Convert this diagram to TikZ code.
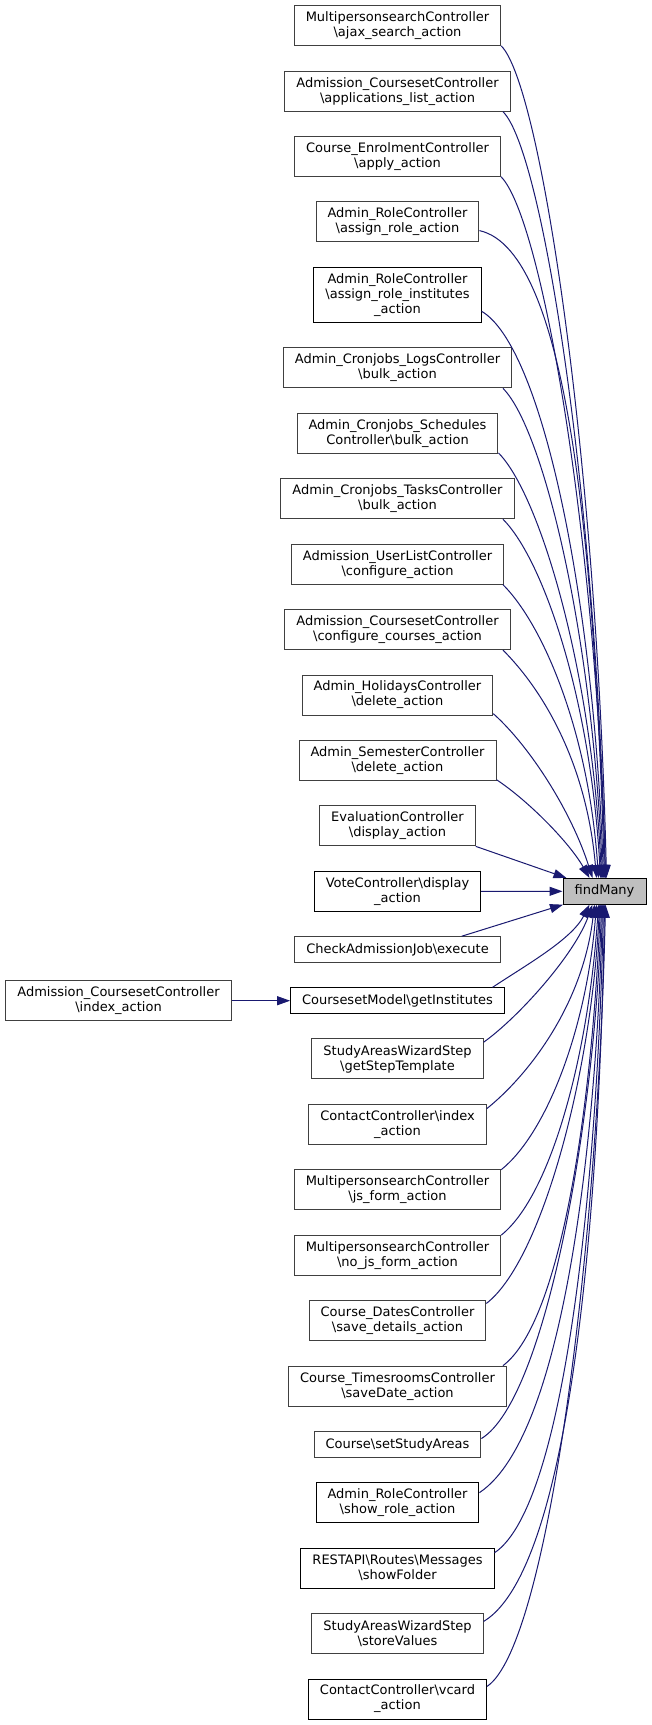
\documentclass[tikz,border=0pt]{standalone}
\usepackage{fontspec}
\setmainfont{DejaVu Sans}
\usetikzlibrary{arrows.meta}
\definecolor{edgeblue}{HTML}{191970}
\definecolor{boxgray}{HTML}{404040}
\definecolor{rootfill}{HTML}{BFBFBF}
\newcommand{\BSL}{\textbackslash}
\newcommand{\USC}{\_}
\begin{document}
\begin{tikzpicture}[x=1pt,y=-1pt,
  box/.style={draw=boxgray,line width=1pt,fill=white,align=center,inner xsep=11.5pt,inner ysep=0pt,
     font=\fontsize{13pt}{15pt}\selectfont,minimum height=40pt},
  boxk/.style={box,draw=black},
  one/.style={minimum height=25.7pt},
  three/.style={minimum height=55pt},
  root/.style={draw=black,line width=1pt,fill=rootfill,inner xsep=11.5pt,inner ysep=0pt,
     font=\fontsize{13pt}{15pt}\selectfont,minimum width=83pt,minimum height=25.7pt},
  edge/.style={draw=edgeblue,line width=1pt,-{Triangle[length=13pt,width=9pt]}}]
\fill[white] (0,0) rectangle (651,1725);
\useasboundingbox (0,0) rectangle (651,1725);

\node[root] (f) at (604.5,891.3) {findMany};

\node[box] (b1) at (397.5,25.7) {MultipersonsearchController\\\BSL ajax\USC search\USC action};
\node[box] (b2) at (397.5,91.13) {Admission\USC CoursesetController\\\BSL applications\USC list\USC action};
\node[box] (b3) at (397.5,156.56) {Course\USC EnrolmentController\\\BSL apply\USC action};
\node[box] (b4) at (397.5,221.99) {Admin\USC RoleController\\\BSL assign\USC role\USC action};
\node[boxk,three] (b5) at (397.5,294.92) {Admin\USC RoleController\\\BSL assign\USC role\USC institutes\\\USC action};
\node[box] (b6) at (397.5,367.85) {Admin\USC Cronjobs\USC LogsController\\\BSL bulk\USC action};
\node[box] (b7) at (397.5,433.28) {Admin\USC Cronjobs\USC Schedules\\Controller\BSL bulk\USC action};
\node[box] (b8) at (397.5,498.71) {Admin\USC Cronjobs\USC TasksController\\\BSL bulk\USC action};
\node[box] (b9) at (397.5,564.14) {Admission\USC UserListController\\\BSL configure\USC action};
\node[box] (b10) at (397.5,629.57) {Admission\USC CoursesetController\\\BSL configure\USC courses\USC action};
\node[box] (b11) at (397.5,695.0) {Admin\USC HolidaysController\\\BSL delete\USC action};
\node[box] (b12) at (397.5,760.43) {Admin\USC SemesterController\\\BSL delete\USC action};
\node[box] (b13) at (397.5,825.86) {EvaluationController\\\BSL display\USC action};
\node[boxk] (b14) at (397.5,891.29) {VoteController\BSL display\\\USC action};
\node[box,one] (b15) at (397.5,949.57) {CheckAdmissionJob\BSL execute};
\node[boxk,one] (b16) at (397.5,1000.7) {CoursesetModel\BSL getInstitutes};
\node[box] (L) at (118.5,1000.7) {Admission\USC CoursesetController\\\BSL index\USC action};
\node[box] (b17) at (397.5,1058.98) {StudyAreasWizardStep\\\BSL getStepTemplate};
\node[box] (b18) at (397.5,1124.41) {ContactController\BSL index\\\USC action};
\node[box] (b19) at (397.5,1189.84) {MultipersonsearchController\\\BSL js\USC form\USC action};
\node[box] (b20) at (397.5,1255.27) {MultipersonsearchController\\\BSL no\USC js\USC form\USC action};
\node[box] (b21) at (397.5,1320.7) {Course\USC DatesController\\\BSL save\USC details\USC action};
\node[box] (b22) at (397.5,1386.13) {Course\USC TimesroomsController\\\BSL saveDate\USC action};
\node[box,one] (b23) at (397.5,1444.41) {Course\BSL setStudyAreas};
\node[boxk] (b24) at (397.5,1502.69) {Admin\USC RoleController\\\BSL show\USC role\USC action};
\node[boxk] (b25) at (397.5,1568.12) {RESTAPI\BSL Routes\BSL Messages\\\BSL showFolder};
\node[box] (b26) at (397.5,1633.55) {StudyAreasWizardStep\\\BSL storeValues};
\node[boxk] (b27) at (397.5,1698.98) {ContactController\BSL vcard\\\USC action};

% upper callers
\draw[edge] (b1.-11.3) .. controls +(40,40) and +(-10,-417) .. ([xshift=44pt]f.north west);
\draw[edge] (b2.-11.3) .. controls +(40,40) and +(-10,-384) .. ([xshift=43pt]f.north west);
\draw[edge] (b3.-11.3) .. controls +(40,40) and +(-10,-351) .. ([xshift=43pt]f.north west);
\draw[edge] (b4.-6.7) .. controls +(90,20) and +(-10,-323) .. ([xshift=42pt]f.north west);
\draw[edge] (b5.-11.3) .. controls +(60,35) and +(-10,-284) .. ([xshift=41pt]f.north west);
\draw[edge] (b6.-11.3) .. controls +(40,40) and +(-10,-246) .. ([xshift=40pt]f.north west);
\draw[edge] (b7.-11.3) .. controls +(40,40) and +(-10,-213) .. ([xshift=39pt]f.north west);
\draw[edge] (b8.-11.3) .. controls +(40,40) and +(-10,-180) .. ([xshift=38pt]f.north west);
\draw[edge] (b9.-11.3) .. controls +(40,40) and +(-10,-147) .. ([xshift=36pt]f.north west);
\draw[edge] (b10.-11.3) .. controls +(40,40) and +(-10,-115) .. ([xshift=34pt]f.north west);
\draw[edge] (b11.-11.3) .. controls +(37,33) and +(-21,-66) .. ([xshift=30pt]f.north west);
\draw[edge] (b12.-11.3) .. controls +(33,22) and +(-20,-35) .. ([xshift=27pt]f.north west);
% near callers
\draw[edge] (b13.south east) -- ([xshift=4pt]f.north west);
\draw[edge] (b14) -- (f);
\draw[edge] ([xshift=-39pt]b15.north east) -- ([xshift=0.5pt]f.south west);
% lower callers
\draw[edge] (b16.8.9) .. controls +(33,-22) and +(-18,35) .. ([xshift=27pt]f.south west);
\draw[edge] (b17.11.4) .. controls +(35,-25) and +(-18,50) .. ([xshift=30pt]f.south west);
\draw[edge] (b18.10.5) .. controls +(40,-32) and +(-12,102) .. ([xshift=32pt]f.south west);
\draw[edge] (b19.11.3) .. controls +(45,-36) and +(-10,125) .. ([xshift=34pt]f.south west);
\draw[edge] (b20.11.3) .. controls +(50,-40) and +(-10,150) .. ([xshift=36pt]f.south west);
\draw[edge] (b21.11.3) .. controls +(55,-42) and +(-8,170) .. ([xshift=37pt]f.south west);
\draw[edge] (b22.11.3) .. controls +(60,-45) and +(-8,190) .. ([xshift=38pt]f.south west);
\draw[edge] (b23.4.4) .. controls +(65,-40) and +(-6,210) .. ([xshift=39pt]f.south west);
\draw[edge] (b24.7.4) .. controls +(90,-60) and +(-5,200) .. ([xshift=40pt]f.south west);
\draw[edge] (b25.9.6) .. controls +(75,-50) and +(-5,240) .. ([xshift=41pt]f.south west);
\draw[edge] (b26.8) .. controls +(100,-60) and +(-3,200) .. ([xshift=42pt]f.south west);
\draw[edge] (b27.8.5) .. controls +(60,-40) and +(-8,352) .. ([xshift=43pt]f.south west);
% left caller
\draw[edge] (L) -- (b16);
\end{tikzpicture}
\end{document}
